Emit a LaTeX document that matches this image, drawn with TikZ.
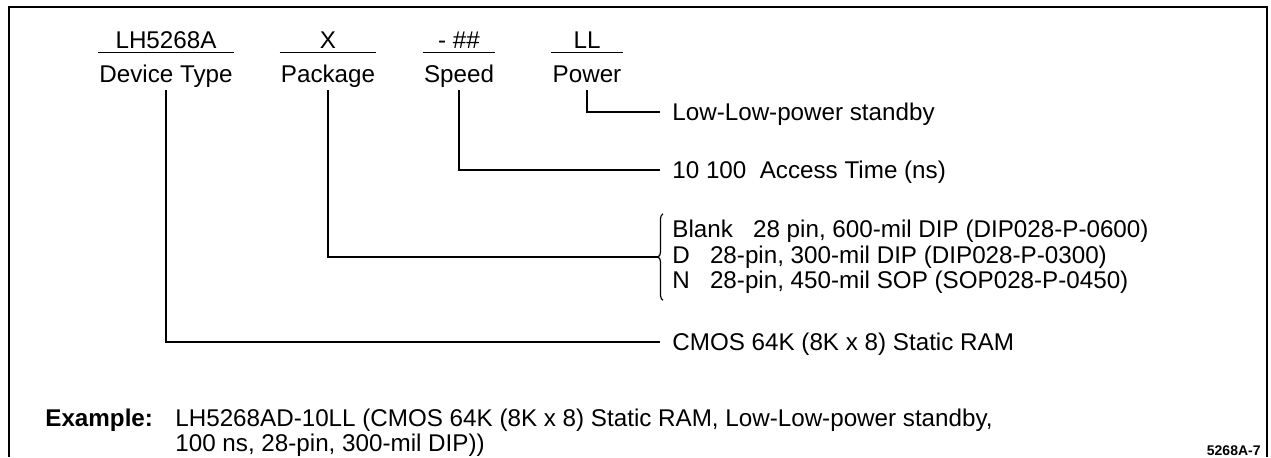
\documentclass[tikz,border=0pt]{standalone}
\usepackage{fontspec}
\setmainfont{Liberation Sans}
\usetikzlibrary{decorations.pathreplacing}
\newcommand{\basefont}{\fontsize{12.1pt}{12.75pt}\selectfont}
\tikzset{
  codetext/.style={anchor=base, inner xsep=0pt, inner ysep=2pt, text depth=0pt},
  fieldtext/.style={anchor=base, inner xsep=0.5pt, inner ysep=1pt, text height=9pt, text depth=3pt},
  desctext/.style={anchor=west, inner xsep=6pt, inner ysep=0pt, text height=8.7pt, text depth=0pt},
  listtext/.style={anchor=west, inner xsep=6pt, inner ysep=3pt, align=left},
  exampletext/.style={anchor=base west, inner sep=0pt},
  link/.style={line width=0.75pt},
  outline/.style={line width=0.9pt},
  curly/.style={line width=0.6pt, decorate, decoration={brace, amplitude=2.5pt}},
}

\begin{document}
\begin{tikzpicture}[x=0.5pt, y=-0.5pt, font=\basefont]
  \useasboundingbox (0,0) rectangle (1271,457);
  % frame, open at the bottom
  \draw[outline] (9,457) -- (9,7) -- (1267,7) -- (1267,457);
  % part number and its fields
  \node[codetext] (c1) at (166,48) {LH5268A};
  \node[codetext] (c2) at (328,48) {X};
  \node[codetext] (c3) at (459,48) {- \#\#};
  \node[codetext] (c4) at (587,48) {LL};
  \node[fieldtext] (f1) at (166,82) {Device Type};
  \node[fieldtext] (f2) at (328,82) {Package};
  \node[fieldtext] (f3) at (459,82) {Speed};
  \node[fieldtext] (f4) at (587,82) {Power};
  \foreach \i in {1,...,4}
    \draw[link] (f\i.north west |- c\i.south) -- (f\i.north east |- c\i.south);
  % what each field means
  \node[desctext] (d4) at (660,112) {Low-Low-power standby};
  \node[desctext] (d3) at (660,170) {10 100\ \ Access Time (ns)};
  \node[listtext] (d2) at (660,257) {Blank\ \ \ 28 pin, 600-mil DIP (DIP028-P-0600)\\
    D\ \ \ 28-pin, 300-mil DIP (DIP028-P-0300)\\
    N\ \ \ 28-pin, 450-mil SOP (SOP028-P-0450)};
  \node[desctext] (d1) at (660,342) {CMOS 64K (8K x 8) Static RAM};
  \draw[curly] ([xshift=1.5pt]d2.south west) -- ([xshift=1.5pt]d2.north west);
  \coordinate (tip) at ([xshift=-1pt]d2.west);
  \draw[link] (f4.south) |- (d4.west);
  \draw[link] (f3.south) |- (d3.west);
  \draw[link] (f2.south) |- (tip);
  \draw[link] (f1.south) |- (d1.west);
  % example
  \node[exampletext, font=\basefont\bfseries] (ex) at (45,426) {Example:};
  \node[exampletext] (ex1) at (175,426) {LH5268AD-10LL (CMOS 64K (8K x 8) Static RAM, Low-Low-power standby,};
  \node[exampletext] (ex2) at (175,451) {100 ns, 28-pin, 300-mil DIP))};
  \node[anchor=base east, inner sep=0pt, font=\bfseries\fontsize{7pt}{8pt}\selectfont] (fig) at (1261,455) {5268A-7};
\end{tikzpicture}
\end{document}
